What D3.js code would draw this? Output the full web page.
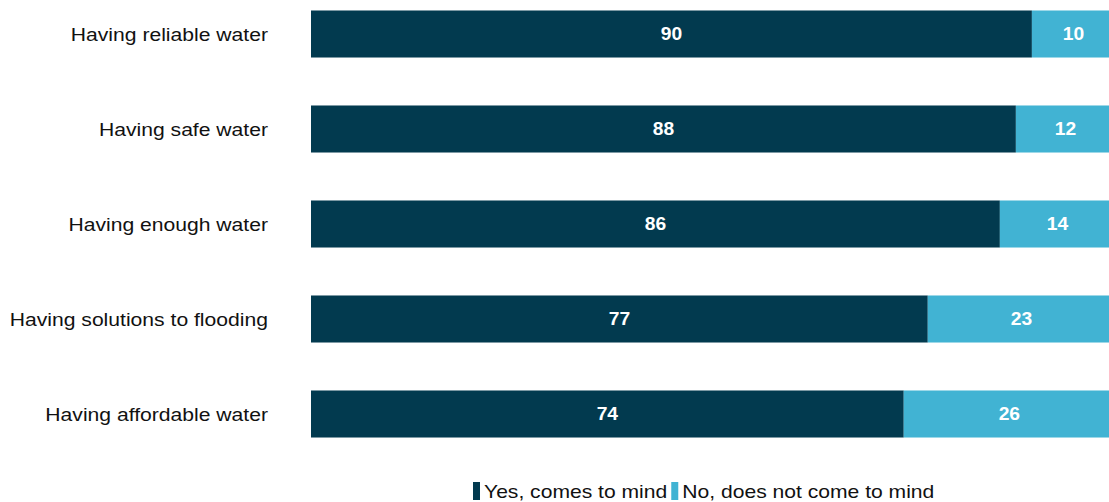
<!DOCTYPE html>
<html>
<head>
<meta charset="utf-8">
<script src="https://cdn.jsdelivr.net/npm/d3@7"></script>
<style>
  html, body { margin: 0; padding: 0; background: #fff; }
  svg { display: block; }
</style>
</head>
<body>
<svg id="chart" width="1109" height="502"></svg>
<script>
const categories = [
  "Having reliable water",
  "Having safe water",
  "Having enough water",
  "Having solutions to flooding",
  "Having affordable water"
];
const yesValues = [90, 88, 86, 77, 74];
const noValues = [10, 12, 14, 23, 26];
const seriesNames = ["Yes, comes to mind", "No, does not come to mind"];
const seriesColors = ["#023a4f", "#41b3d3"];

const svg = d3.select("#chart");
const font = "'Liberation Sans', Arial, Helvetica, sans-serif";
const stretch = 1.13;

// Widen glyphs horizontally to the chart's wide sans-serif look
function widen(sel, k) {
  sel.each(function () {
    const len = this.getComputedTextLength();
    d3.select(this)
      .attr("textLength", len * k)
      .attr("lengthAdjust", "spacingAndGlyphs");
  });
}

const x = d3.scaleLinear().domain([0, 100]).range([311, 1112]);
const y = d3.scaleBand().domain(categories).range([-13.5, 461.5]).paddingInner(0.505).paddingOuter(0.2525);

const rows = categories.map((c, i) => ({ cat: c, yes: yesValues[i], no: noValues[i] }));

const g = svg.append("g");

// Category labels
g.selectAll("text.cat")
  .data(rows)
  .enter().append("text")
  .attr("class", "cat")
  .attr("x", 268)
  .attr("y", d => y(d.cat) + y.bandwidth() / 2)
  .attr("dy", "0.35em")
  .attr("text-anchor", "end")
  .style("font-family", font)
  .style("font-size", "18.7px")
  .style("fill", "#111")
  .text(d => d.cat)
  .call(widen, stretch);

// Stacked segments
const stack = d3.stack().keys(["yes", "no"])(rows);
stack.forEach((layer, li) => {
  const lg = g.append("g");
  lg.selectAll("rect")
    .data(layer)
    .enter().append("rect")
    .attr("x", d => x(d[0]))
    .attr("y", d => y(d.data.cat))
    .attr("width", d => x(d[1]) - x(d[0]))
    .attr("height", y.bandwidth())
    .attr("fill", seriesColors[li]);
  lg.selectAll("text")
    .data(layer)
    .enter().append("text")
    .attr("x", d => (x(d[0]) + Math.min(x(d[1]), 1109)) / 2 + (li === 1 ? 3 : 0))
    .attr("y", d => y(d.data.cat) + y.bandwidth() / 2)
    .attr("dy", "0.36em")
    .attr("text-anchor", "middle")
    .style("font-family", font)
    .style("font-weight", "bold")
    .style("font-size", "17.5px")
    .style("fill", "#fff")
    .text(d => d[1] - d[0])
    .call(widen, 1.1);
});

// Legend
const legend = svg.append("g");
let lx = 473;
seriesNames.forEach((name, i) => {
  legend.append("rect")
    .attr("x", lx).attr("y", 482)
    .attr("width", 7).attr("height", 18)
    .attr("fill", seriesColors[i]);
  const t = legend.append("text")
    .attr("x", lx + 11).attr("y", 491)
    .attr("dy", "0.35em")
    .style("font-family", font)
    .style("font-size", "19px")
    .style("fill", "#111")
    .text(name);
  const len = t.node().getComputedTextLength() * 1.11;
  t.attr("textLength", len).attr("lengthAdjust", "spacingAndGlyphs");
  lx += 11 + len + 4;
});
</script>
</body>
</html>
